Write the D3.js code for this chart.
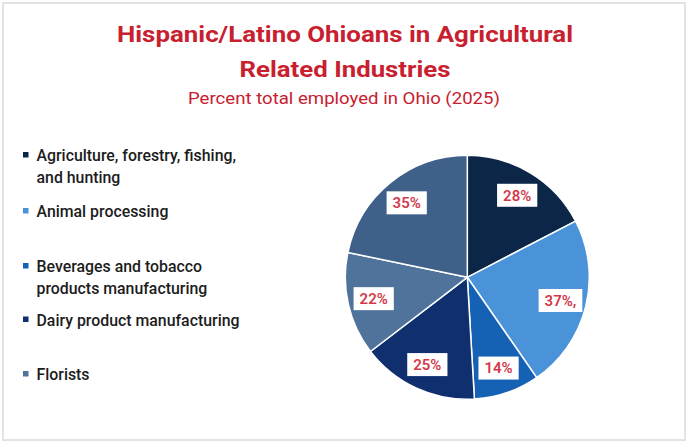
<!DOCTYPE html>
<html>
<head>
<meta charset="utf-8">
<script src="https://cdn.jsdelivr.net/npm/d3@7"></script>
<style>
  html, body { margin: 0; padding: 0; background: #ffffff; }
  svg { display: block; }
</style>
</head>
<body>
<svg id="chart" width="687" height="441"></svg>
<script>
// ---- Data ----
const titleLines = ["Hispanic/Latino Ohioans in Agricultural", "Related Industries"];
const subtitle = "Percent total employed in Ohio (2025)";
const legendLabels = [
  ["Agriculture, forestry, fishing,", "and hunting"],
  ["Animal processing"],
  ["Beverages and tobacco", "products manufacturing"],
  ["Dairy product manufacturing"],
  ["Florists"]
];
const sliceValues = [28, 37, 14, 25, 22, 35];
const sliceLabels = ["28%", "37%,", "14%", "25%", "22%", "35%"];
const sliceColors = ["#0b2647", "#4b93d8", "#1561b4", "#0f2f6e", "#50739c", "#3e6089"];

// ---- Layout ----
const W = 687, H = 441;
const svg = d3.select("#chart");

svg.append("rect")
  .attr("x", 3).attr("y", 3).attr("width", 682).attr("height", 437)
  .attr("fill", "#ffffff").attr("stroke", "#e3e3e3").attr("stroke-width", 2);

const red = "#c8202f";
const fitText = (sel, target) => {
  const n = sel.node();
  const w = n.getComputedTextLength();
  if (w > 0) sel.attr("textLength", target).attr("lengthAdjust", "spacingAndGlyphs");
};

// Title
const titleSpecs = [
  { text: titleLines[0], y: 42, w: 456 },
  { text: titleLines[1], y: 77, w: 211 }
];
titleSpecs.forEach(s => {
  const t = svg.append("text")
    .attr("x", 345).attr("y", s.y)
    .attr("text-anchor", "middle")
    .attr("font-family", "Roboto, 'Liberation Sans', sans-serif")
    .attr("font-weight", "bold")
    .attr("font-size", 22.5)
    .attr("fill", red)
    .text(s.text);
  fitText(t, s.w);
});
const sub = svg.append("text")
  .attr("x", 344).attr("y", 104)
  .attr("text-anchor", "middle")
  .attr("font-family", "Roboto, 'Liberation Sans', sans-serif")
  .attr("font-size", 16.5)
  .attr("fill", red)
  .text(subtitle);
fitText(sub, 312);

// Legend
const legendBaselines = [161, 217, 272, 325.5, 380];
const legendLineGap = 21.5;
const legendFont = 16.5;
const probe = svg.append("text")
  .attr("font-family", "Roboto, 'Liberation Sans', sans-serif")
  .attr("font-size", legendFont)
  .attr("font-weight", 500)
  .text(legendLabels[3][0]);
const probeW = probe.node().getComputedTextLength();
probe.remove();
const squeeze = probeW > 0 ? 203 / probeW : 1;

const legend = svg.append("g");
legendLabels.forEach((lines, i) => {
  const y0 = legendBaselines[i];
  legend.append("rect")
    .attr("x", 23).attr("y", y0 - 9)
    .attr("width", 5.5).attr("height", 5.5)
    .attr("fill", sliceColors[i]);
  lines.forEach((ln, j) => {
    const t = legend.append("text")
      .attr("x", 36.5).attr("y", y0 + j * legendLineGap)
      .attr("font-family", "Roboto, 'Liberation Sans', sans-serif")
      .attr("font-size", legendFont)
      .attr("font-weight", 500)
      .attr("fill", "#1c1c1c")
      .text(ln);
    const w = t.node().getComputedTextLength();
    if (w > 0) t.attr("textLength", w * squeeze).attr("lengthAdjust", "spacingAndGlyphs");
  });
});

// Pie
const cx = 467.3, cy = 277.3, R = 122;
const pie = d3.pie().sort(null).value(d => d);
const arcs = pie(sliceValues);
const arc = d3.arc().innerRadius(0).outerRadius(R);
const labelArc = d3.arc().innerRadius(96).outerRadius(96);

const g = svg.append("g").attr("transform", `translate(${cx},${cy})`);
g.selectAll("path.slice")
  .data(arcs)
  .join("path")
  .attr("class", "slice")
  .attr("d", arc)
  .attr("fill", (d, i) => sliceColors[i])
  .attr("stroke", "#ffffff")
  .attr("stroke-width", 1.5)
  .attr("stroke-linejoin", "round");

const labels = g.selectAll("g.lbl")
  .data(arcs)
  .join("g")
  .attr("class", "lbl")
  .attr("transform", d => `translate(${labelArc.centroid(d)})`);

labels.each(function(d, i) {
  const lg = d3.select(this);
  const t = lg.append("text")
    .attr("text-anchor", "middle")
    .attr("dy", "0.36em")
    .attr("font-family", "Roboto, 'Liberation Sans', sans-serif")
    .attr("font-weight", 600)
    .attr("font-size", 15)
    .attr("fill", "#d23a4b")
    .text(sliceLabels[i]);
  const w = t.node().getComputedTextLength();
  lg.insert("rect", "text")
    .attr("x", -w / 2 - 6).attr("y", -11.5)
    .attr("width", w + 12).attr("height", 23)
    .attr("fill", "#ffffff");
});
</script>
</body>
</html>
